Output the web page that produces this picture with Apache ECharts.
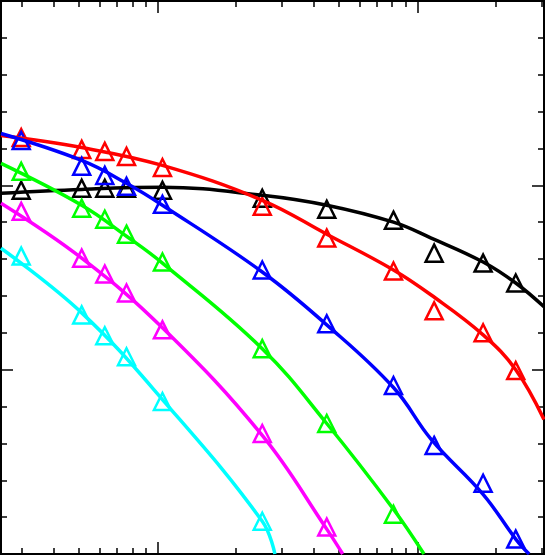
<!DOCTYPE html>
<html>
<head>
<meta charset="utf-8">
<script src="https://cdn.jsdelivr.net/npm/echarts@6/dist/echarts.min.js"></script>
<style>html,body{margin:0;padding:0;background:#fff}#chart-container{width:545px;height:555px}</style>
</head>
<body>
<div id="chart-container"></div>
<script>
// x positions shared by the triangle markers
const markerX = [0.299, 0.511, 0.627, 0.760, 1.045, 2.53, 4.48, 8.09, 11.6, 17.9, 23.9];

const blackPts   = [0.973, 0.984, 0.984, 0.984, 0.973, 0.930, 0.870, 0.811, 0.632, 0.578, 0.470];
const redPts     = [1.259, 1.195, 1.184, 1.157, 1.097, 0.886, 0.714, 0.535, 0.319, 0.200, -0.005];
const bluePts    = [1.243, 1.103, 1.054, 0.995, 0.897, 0.541, 0.249, -0.086, -0.411, -0.616, -0.919];
const greenPts   = [1.076, 0.876, 0.816, 0.735, 0.584, 0.114, -0.292, -0.784];
const magentaPts = [0.859, 0.605, 0.519, 0.416, 0.216, -0.346, -0.854];
const cyanPts    = [0.616, 0.297, 0.184, 0.070, -0.173, -0.822];

// fitted curves
const blackCurveX = [0.25, 0.511, 1.045, 2.53, 4.48, 8.09, 11.3, 17.9, 23.9, 30.7];
const blackCurveY = [0.957, 0.978, 0.989, 0.946, 0.892, 0.800, 0.714, 0.584, 0.470, 0.341];
const redCurveX = [0.25, 0.511, 1.045, 2.53, 4.48, 8.09, 11.3, 17.9, 23.9, 30.7];
const redCurveY = [1.270, 1.205, 1.108, 0.919, 0.735, 0.541, 0.405, 0.189, 0, -0.270];
const blueCurveX = [0.25, 0.511, 0.760, 1.045, 2.53, 4.48, 8.09, 11.3, 17.9, 23.9, 26.9];
const blueCurveY = [1.281, 1.135, 1.011, 0.892, 0.530, 0.243, -0.097, -0.378, -0.676, -0.919, -1.0];
const greenCurveX = [0.25, 0.511, 0.760, 1.045, 2.53, 4.48, 8.09, 10.6];
const greenCurveY = [1.119, 0.892, 0.724, 0.578, 0.114, -0.292, -0.757, -1.0];
const magentaCurveX = [0.25, 0.511, 1.045, 2.53, 4.48, 5.16];
const magentaCurveY = [0.903, 0.605, 0.227, -0.357, -0.865, -1.0];
const cyanCurveX = [0.25, 0.511, 1.045, 2.53, 2.83];
const cyanCurveY = [0.659, 0.308, -0.162, -0.822, -1.0];

const groups = [
   ['#000000', blackPts, blackCurveX, blackCurveY],
   ['#ff0000', redPts, redCurveX, redCurveY],
   ['#0000ff', bluePts, blueCurveX, blueCurveY],
   ['#00ff00', greenPts, greenCurveX, greenCurveY],
   ['#ff00ff', magentaPts, magentaCurveX, magentaCurveY],
   ['#00ffff', cyanPts, cyanCurveX, cyanCurveY]
];

var myChart = echarts.init(document.getElementById('chart-container'));

var series = [];
groups.forEach(g =>
{
   series.push({
      type: 'line', smooth: 0.4, showSymbol: false, silent: true,
      data: g[2].map((x, i) => [x, g[3][i]]),
      lineStyle: { color: g[0], width: 3.5 }
   });
});
groups.forEach(g =>
{
   series.push({
      type: 'scatter', symbol: 'triangle', symbolSize: 17,
      data: g[1].map((y, i) => [markerX[i], y]),
      itemStyle: { color: 'rgba(0,0,0,0)', borderColor: g[0], borderWidth: 2.5, opacity: 1 }
   });
});

const xBase = { type: 'log', logBase: 10, min: 0.25, max: 30.7, axisLine: { show: false, onZero: false },
   axisLabel: { show: false }, splitLine: { show: false },
   axisTick: { inside: true, length: 12, lineStyle: { color: '#000', width: 1.5 } },
   minorTick: { show: true, splitNumber: 9, length: 6, lineStyle: { color: '#000', width: 1.5 } } };
const yBase = { type: 'value', min: -1, max: 2, interval: 1, axisLine: { show: false, onZero: false },
   axisLabel: { show: false }, splitLine: { show: false },
   axisTick: { inside: true, length: 12, lineStyle: { color: '#000', width: 1.5 } },
   minorTick: { show: true, splitNumber: 5, length: 6, lineStyle: { color: '#000', width: 1.5 } } };

myChart.setOption({
   animation: false,
   grid: { left: 1, right: 1, top: 1, bottom: 1, show: true, borderColor: '#000', borderWidth: 2 },
   xAxis: [ Object.assign({ position: 'bottom' }, xBase), Object.assign({ position: 'top' }, xBase) ],
   yAxis: [ Object.assign({ position: 'left' }, yBase), Object.assign({ position: 'right' }, yBase) ],
   series: series
});
</script>
</body>
</html>
